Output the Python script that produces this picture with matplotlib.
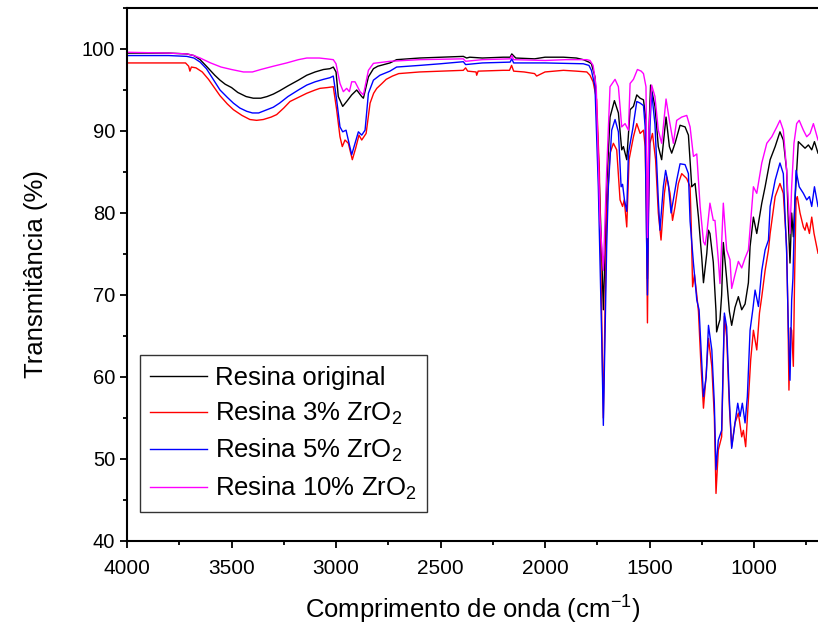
import matplotlib
matplotlib.use("Agg")
import matplotlib.pyplot as plt
from matplotlib.ticker import MultipleLocator

plt.rcParams['font.family'] = ['Liberation Sans', 'DejaVu Sans']
plt.rcParams['mathtext.fontset'] = 'custom'
plt.rcParams['mathtext.rm'] = 'Liberation Sans'
plt.rcParams['mathtext.it'] = 'Liberation Sans'

# Resina original (black)
wn_orig = [4000, 3900, 3800, 3714, 3680, 3650, 3620, 3580, 3555, 3530, 3500, 3470, 3430,
           3396, 3360, 3330, 3300, 3270, 3230, 3180, 3140, 3100, 3060, 3029, 3013, 3000,
           2989, 2968, 2949, 2925, 2901, 2877, 2869, 2845, 2821, 2800, 2742, 2710, 2600,
           2500, 2391, 2375, 2360, 2300, 2200, 2167, 2159, 2140, 2050, 2000, 1912, 1850,
           1817, 1790, 1778, 1761, 1745, 1729, 1721, 1713, 1705, 1689, 1668, 1649, 1633,
           1625, 1609, 1593, 1577, 1561, 1545, 1529, 1517, 1510, 1503, 1495, 1474, 1458,
           1442, 1421, 1405, 1394, 1378, 1354, 1330, 1314, 1298, 1282, 1266, 1250, 1242,
           1226, 1218, 1211, 1195, 1182, 1179, 1171, 1163, 1155, 1147, 1131, 1118, 1107,
           1091, 1075, 1059, 1043, 1027, 1019, 1003, 987, 963, 947, 923, 899, 876, 860,
           844, 836, 828, 820, 812, 804, 788, 772, 756, 740, 724, 711, 694]
t_orig = [99.5, 99.5, 99.5, 99.4, 99.2, 98.7, 97.9, 96.8, 96.2, 95.7, 95.3, 94.7, 94.2,
          94.0, 94.0, 94.2, 94.5, 94.9, 95.5, 96.2, 96.8, 97.2, 97.5, 97.6, 97.8, 97.2,
          94.2, 93.0, 93.6, 94.4, 95.0, 94.2, 94.0, 96.6, 97.6, 97.9, 98.3, 98.7, 98.9,
          99.0, 99.1, 98.9, 99.0, 98.9, 99.0, 99.0, 99.4, 98.9, 98.8, 99.0, 99.0, 98.9,
          98.7, 98.4, 98.2, 96.6, 87.3, 75.1, 68.2, 75.0, 83.2, 91.7, 93.7, 92.2, 87.7,
          88.1, 86.5, 92.6, 93.0, 94.4, 94.0, 93.8, 91.3, 72.0, 90.0, 95.6, 93.0, 88.1,
          86.5, 91.7, 88.1, 87.3, 88.5, 90.7, 90.5, 89.5, 83.2, 83.6, 79.5, 74.5, 71.5,
          75.1, 77.9, 77.5, 74.0, 68.0, 65.5, 66.3, 67.0, 70.0, 76.4, 72.0, 68.0, 66.3,
          68.5, 69.8, 68.2, 68.9, 71.5, 75.9, 79.5, 77.5, 81.2, 83.2, 86.5, 88.1, 89.9,
          88.9, 85.2, 79.0, 73.9, 80.0, 77.1, 81.6, 88.7, 88.3, 87.9, 88.3, 87.7, 88.7,
          87.3]

# Resina 3% ZrO2 (red)
wn_3 = [4000, 3800, 3720, 3705, 3699, 3692, 3670, 3640, 3610, 3580, 3555, 3520, 3491, 3450,
        3412, 3380, 3348, 3310, 3284, 3250, 3220, 3180, 3140, 3100, 3077, 3040, 3013, 2997,
        2981, 2970, 2957, 2941, 2922, 2906, 2890, 2877, 2856, 2837, 2820, 2805, 2780, 2760,
        2730, 2700, 2600, 2500, 2391, 2380, 2370, 2330, 2327, 2320, 2200, 2170, 2160, 2150,
        2100, 2050, 2040, 2000, 1912, 1850, 1800, 1785, 1770, 1753, 1740, 1729, 1721, 1713,
        1705, 1689, 1673, 1657, 1641, 1629, 1621, 1609, 1598, 1577, 1561, 1545, 1529, 1521,
        1515, 1510, 1505, 1498, 1486, 1471, 1458, 1445, 1429, 1418, 1402, 1390, 1378, 1362,
        1346, 1322, 1306, 1300, 1294, 1285, 1274, 1266, 1255, 1242, 1230, 1218, 1202, 1190,
        1182, 1171, 1155, 1142, 1131, 1118, 1107, 1091, 1075, 1059, 1051, 1040, 1027, 1016,
        1003, 987, 974, 963, 947, 931, 923, 899, 876, 860, 844, 838, 833, 826, 820, 812, 806,
        799, 793, 780, 764, 756, 748, 735, 724, 713, 694]
t_3 = [98.3, 98.3, 98.3, 97.9, 97.3, 97.8, 97.7, 97.2, 96.3, 95.2, 94.3, 93.3, 92.6, 91.9,
       91.4, 91.3, 91.4, 91.7, 92.0, 92.8, 93.6, 94.1, 94.6, 95.0, 95.2, 95.3, 95.4, 92.6,
       89.3, 88.1, 88.9, 88.5, 86.5, 87.9, 89.5, 88.9, 89.7, 93.4, 94.6, 95.2, 95.8, 96.3,
       96.7, 97.0, 97.2, 97.3, 97.4, 97.7, 97.3, 97.2, 96.8, 97.3, 97.4, 97.4, 98.0, 97.3,
       97.2, 97.0, 96.7, 97.2, 97.4, 97.3, 97.2, 96.8, 96.0, 93.8, 85.0, 68.0, 55.0, 68.0,
       80.0, 87.3, 88.5, 87.7, 81.6, 80.8, 81.6, 78.3, 86.5, 89.3, 90.9, 89.7, 90.1, 88.1,
       80.0, 66.6, 80.0, 88.5, 89.7, 86.5, 80.0, 76.7, 82.4, 84.4, 82.4, 79.1, 80.8, 83.6,
       84.8, 84.2, 83.2, 78.0, 71.0, 72.5, 70.0, 68.0, 62.0, 56.2, 60.0, 64.7, 61.3, 55.2,
       45.8, 51.1, 52.7, 67.4, 64.9, 56.4, 51.5, 54.4, 55.6, 52.7, 53.5, 51.5, 57.2, 62.1,
       65.7, 63.3, 67.8, 69.8, 73.0, 75.5, 77.5, 82.0, 83.6, 82.4, 75.9, 68.0, 58.4, 66.0,
       65.7, 61.3, 72.0, 81.6, 82.0, 80.0, 78.3, 77.9, 78.8, 77.5, 79.5, 77.5, 75.1]

# Resina 5% ZrO2 (blue)
wn_5 = [4000, 3800, 3714, 3680, 3650, 3620, 3590, 3555, 3520, 3491, 3460, 3427, 3400, 3370,
        3340, 3300, 3270, 3230, 3180, 3140, 3100, 3060, 3029, 3013, 2997, 2981, 2968, 2952,
        2941, 2925, 2909, 2893, 2877, 2861, 2845, 2821, 2790, 2742, 2710, 2600, 2500, 2391,
        2380, 2300, 2167, 2159, 2150, 2000, 1912, 1817, 1790, 1778, 1761, 1745, 1729, 1721,
        1713, 1705, 1697, 1681, 1665, 1649, 1636, 1629, 1620, 1609, 1601, 1580, 1561, 1545,
        1529, 1521, 1515, 1510, 1505, 1498, 1490, 1474, 1458, 1450, 1434, 1423, 1410, 1397,
        1386, 1370, 1354, 1330, 1314, 1306, 1290, 1274, 1263, 1242, 1229, 1218, 1202, 1190,
        1182, 1171, 1155, 1142, 1131, 1118, 1107, 1091, 1078, 1067, 1056, 1043, 1032, 1019,
        1006, 995, 979, 963, 947, 931, 923, 899, 876, 860, 844, 836, 828, 820, 814, 806, 799,
        784, 764, 748, 735, 724, 711, 694]
t_5 = [99.2, 99.2, 99.1, 98.9, 98.4, 97.6, 96.4, 95.0, 94.1, 93.4, 92.8, 92.4, 92.2, 92.2,
       92.5, 92.9, 93.4, 94.2, 95.0, 95.6, 96.0, 96.3, 96.5, 96.7, 93.8, 90.5, 89.9, 90.1,
       88.9, 87.1, 88.5, 89.9, 89.5, 90.1, 94.6, 96.2, 96.8, 97.3, 97.8, 98.0, 98.2, 98.45,
       98.1, 98.3, 98.4, 98.8, 98.3, 98.3, 98.25, 98.2, 98.0, 97.4, 95.4, 83.2, 65.0, 54.1,
       65.0, 76.0, 83.2, 90.1, 91.4, 89.9, 83.2, 83.5, 81.6, 80.2, 87.3, 90.3, 93.6, 93.4,
       93.1, 90.5, 78.0, 70.0, 80.0, 90.5, 94.8, 90.8, 81.6, 77.9, 83.2, 85.2, 83.5, 80.0,
       81.6, 84.0, 86.0, 85.9, 84.8, 79.0, 73.9, 69.4, 68.2, 57.6, 60.0, 66.3, 63.3, 56.8,
       48.7, 52.3, 53.5, 67.8, 66.1, 57.2, 51.3, 54.4, 56.8, 55.2, 56.8, 54.4, 57.6, 65.7,
       68.2, 70.6, 68.6, 73.0, 75.5, 76.7, 80.8, 84.0, 86.1, 84.8, 75.1, 66.0, 59.6, 69.4,
       72.0, 80.0, 85.2, 83.2, 82.4, 81.6, 82.0, 80.8, 83.2, 80.8]

# Resina 10% ZrO2 (magenta)
wn_10 = [4000, 3800, 3714, 3680, 3650, 3600, 3550, 3500, 3443, 3400, 3360, 3300, 3236, 3180,
         3140, 3080, 3045, 3013, 3000, 2981, 2965, 2949, 2936, 2925, 2909, 2885, 2869, 2845,
         2821, 2742, 2600, 2391, 2380, 2300, 2167, 2159, 2150, 2000, 1900, 1800, 1785, 1770,
         1755, 1737, 1721, 1705, 1689, 1665, 1649, 1633, 1617, 1601, 1593, 1577, 1558, 1540,
         1529, 1517, 1510, 1503, 1490, 1474, 1458, 1442, 1421, 1405, 1386, 1370, 1346, 1322,
         1306, 1290, 1274, 1258, 1242, 1234, 1226, 1211, 1195, 1187, 1171, 1163, 1147, 1131,
         1115, 1107, 1091, 1075, 1059, 1043, 1027, 1003, 987, 963, 939, 915, 891, 876, 860,
         844, 828, 820, 809, 796, 784, 764, 748, 732, 716, 694]
t_10 = [99.6, 99.5, 99.4, 99.2, 98.9, 98.3, 97.8, 97.5, 97.2, 97.2, 97.5, 97.9, 98.3, 98.7,
        98.9, 98.9, 98.8, 98.7, 98.2, 95.8, 94.8, 95.2, 94.8, 96.0, 96.0, 94.8, 94.4, 97.4,
        98.25, 98.5, 98.7, 98.8, 98.5, 98.7, 98.8, 99.2, 98.7, 98.6, 98.7, 98.7, 98.6, 98.0,
        95.4, 79.1, 73.0, 85.2, 95.4, 96.3, 95.4, 90.5, 90.9, 90.1, 95.8, 96.3, 97.5, 97.3,
        97.0, 95.4, 77.0, 90.0, 95.6, 94.2, 90.1, 88.5, 93.9, 91.3, 88.5, 91.3, 91.7, 91.9,
        90.5, 86.9, 87.2, 80.8, 76.5, 76.1, 77.5, 81.2, 79.1, 79.1, 74.3, 71.4, 81.2, 75.5,
        74.3, 70.8, 72.5, 74.1, 73.3, 74.5, 75.5, 83.2, 82.4, 86.1, 88.5, 89.3, 90.5, 91.3,
        90.1, 85.2, 77.5, 83.2, 88.5, 90.9, 91.3, 90.1, 89.3, 89.7, 90.9, 88.9]

labels = ['Resina original', 'Resina 3% ZrO$_2$', 'Resina 5% ZrO$_2$', 'Resina 10% ZrO$_2$']
colors = ['black', '#ff0000', '#0000ff', '#ff00ff']

fig = plt.figure(figsize=(8.18, 6.26), dpi=100)
ax = fig.add_axes([127 / 818, 85 / 626, 691 / 818, 533 / 626])

series = [(wn_orig, t_orig), (wn_3, t_3), (wn_5, t_5), (wn_10, t_10)]
for (x, y), lab, c in zip(series, labels, colors):
    ax.plot(x, y, color=c, lw=1.0, label=lab)

ax.set_xlim(4000, 694)
ax.set_ylim(40, 105)
ax.xaxis.set_major_locator(MultipleLocator(500))
ax.xaxis.set_minor_locator(MultipleLocator(250))
ax.yaxis.set_major_locator(MultipleLocator(10))
ax.yaxis.set_minor_locator(MultipleLocator(5))
ax.tick_params(which='major', direction='out', length=5, width=1.3, labelsize=14.5)
ax.tick_params(which='minor', direction='out', length=3, width=1.3)
ax.tick_params(axis='x', which='major', pad=8, labelsize=15)
for s in ['left', 'bottom', 'top']:
    ax.spines[s].set_linewidth(1.5)
ax.spines['right'].set_visible(False)

ax.set_xlabel('Comprimento de onda (cm$^{-1}$)', fontsize=18.5, labelpad=11)
ax.set_ylabel('Transmitância (%)', fontsize=18.5, labelpad=24)

leg = ax.legend(loc='lower left', bbox_to_anchor=(0.019, 0.054), borderaxespad=0,
                fontsize=18.5, frameon=True, fancybox=False, edgecolor='black',
                handlelength=2.2, handletextpad=0.3, labelspacing=0.4, borderpad=0.4)
leg.get_frame().set_linewidth(1.0)

fig.savefig('out.png', dpi=100)
